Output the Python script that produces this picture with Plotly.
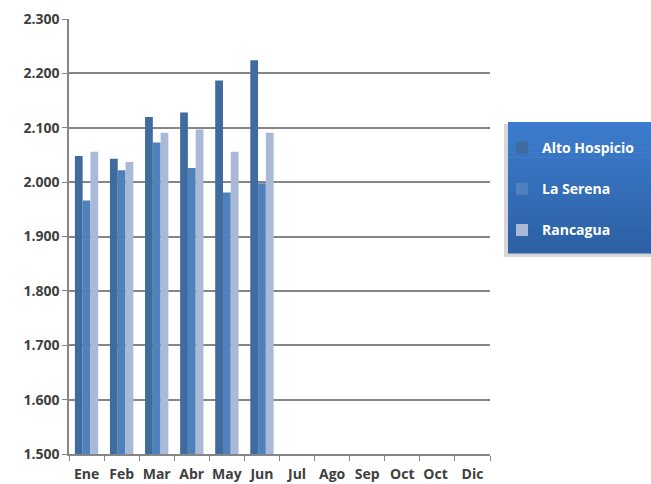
import plotly.graph_objects as go

months = ["Ene", "Feb", "Mar", "Abr", "May", "Jun", "Jul", "Ago", "Sep", "Oct", "Oct ", "Dic"]
alto_hospicio = [2048, 2043, 2120, 2128, 2187, 2224]
la_serena = [1966, 2022, 2073, 2026, 1981, 1998]
rancagua = [2056, 2037, 2091, 2097, 2056, 2091]

series = [
    ("Alto Hospicio", alto_hospicio, "#3F6B9F"),
    ("La Serena", la_serena, "#4F81BD"),
    ("Rancagua", rancagua, "#AAB9D7"),
]

fig = go.Figure()
for i, (name, vals, col) in enumerate(series):
    fig.add_trace(go.Bar(
        x=months[:len(vals)], y=vals, name=name,
        marker=dict(color=col, line=dict(width=0)),
        legendgroup=name,
    ))

L, R, T, B = 69, 161, 19, 30
W, H = 651, 484
pw, ph = W - L - R, H - T - B

def px(x):
    return (x - L) / pw

def py(y):
    return (H - B - y) / ph

shapes = []
# shadow
shapes.append(dict(type="rect", xref="paper", yref="paper",
                   x0=px(504), x1=px(655), y0=py(257), y1=py(124),
                   fillcolor="rgba(0,0,0,0.16)", line=dict(width=0), layer="above"))
# gradient box
top = (0x3C, 0x7C, 0xCE)
bot = (0x2D, 0x60, 0xA4)
y_top, y_bot = 122, 253
n = 26
for k in range(n):
    f = k / (n - 1)
    c = tuple(int(round(top[j] + (bot[j] - top[j]) * f)) for j in range(3))
    ya = y_top + (y_bot - y_top) * k / n
    yb = y_top + (y_bot - y_top) * (k + 1) / n + 0.6
    shapes.append(dict(type="rect", xref="paper", yref="paper",
                       x0=px(508), x1=px(652), y0=py(yb), y1=py(ya),
                       fillcolor="rgb(%d,%d,%d)" % c, line=dict(width=0), layer="above"))

tick_font = dict(family="Open Sans", size=14, color="#404040", weight="bold")

fig.update_layout(
    width=W, height=H,
    margin=dict(l=L, r=R, t=T, b=B, autoexpand=False),
    paper_bgcolor="white", plot_bgcolor="white",
    separators=",.",
    barmode="group", bargap=0.335, bargroupgap=0,
    showlegend=True,
    legend=dict(
        x=px(502), y=py(132), xanchor="left", yanchor="top",
        bgcolor="rgba(0,0,0,0)",
        font=dict(family="Open Sans", size=14, color="white", weight="bold"),
        tracegroupgap=20,
        itemwidth=30,
    ),
    shapes=shapes,
    font=dict(family="Open Sans"),
)
fig.update_xaxes(
    type="category", categoryorder="array", categoryarray=months,
    range=[-0.5, 11.5], tickangle=0, automargin=False,
    tickson="boundaries", ticks="outside", ticklen=5, tickcolor="#868686",
    ticklabelstandoff=6,
    showline=True, linecolor="#868686", linewidth=1.5,
    showgrid=False,
    tickfont=tick_font,
)
fig.update_yaxes(
    range=[1500, 2300], dtick=100, tick0=1500, tickformat=",d", automargin=False,
    ticks="outside", ticklen=5, tickcolor="#868686",
    showline=True, linecolor="#868686", linewidth=1.5,
    showgrid=True, gridcolor="#868686", gridwidth=1.5,
    tickfont=tick_font,
    zeroline=False,
)
fig.write_html("out.html", config={"displayModeBar": False},
               post_script="document.body.style.margin='0';")
